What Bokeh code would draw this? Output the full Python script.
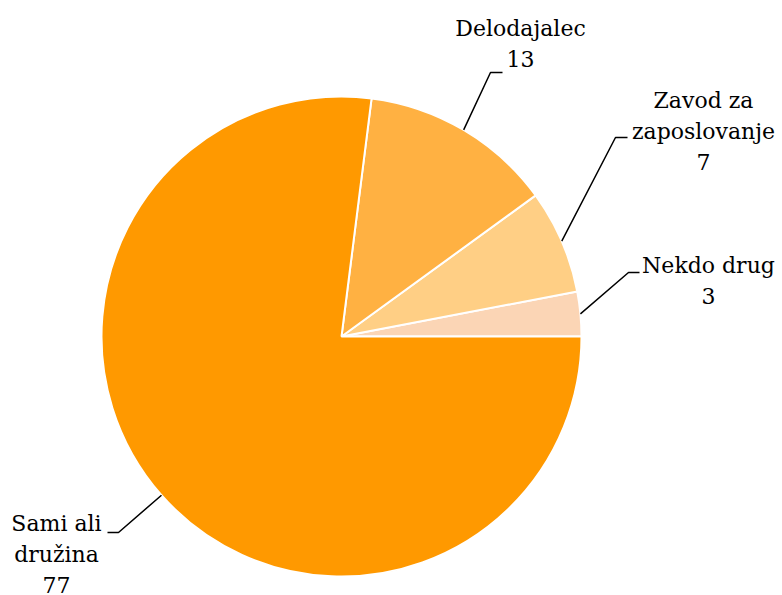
import math
from bokeh.plotting import figure
from bokeh.models import Range1d, ColumnDataSource
from bokeh.core.properties import value
from bokeh.embed import file_html
from bokeh.resources import INLINE

# ---- data (counter-clockwise from 3 o'clock) ----
categories = ["Nekdo drug", "Zavod za zaposlovanje", "Delodajalec", "Sami ali družina"]
label_lines = [["Nekdo drug"], ["Zavod za", "zaposlovanje"], ["Delodajalec"], ["Sami ali", "družina"]]
values = [3, 7, 13, 77]
colors = ["#FBD5B5", "#FFCF85", "#FFB142", "#FF9900"]

# ---- layout (screen pixels of the page) ----
W, H = 782, 595
CX, CY, R = 341, 336, 240
# leader elbow / end and label first-line centre anchor, screen px
elbow = [(628, 272), (615, 137), (490, 72), (118, 532)]
elbow_end = [(639, 272), (627, 137), (502, 72), (107, 532)]
label_anchor = [(708, 265), (703, 100), (520, 28), (56, 523)]
LINE_SP = 30.5
FONT = "DejaVu Serif"
FSIZE = "22px"


def dx(x):
    return x


def dy(y):
    return H - y


p = figure(width=W, height=H, output_backend="svg", toolbar_location=None,
           x_range=Range1d(0, W), y_range=Range1d(0, H), min_border=0)
p.axis.visible = False
p.grid.visible = False
p.outline_line_color = None
p.background_fill_color = "white"
p.border_fill_color = "white"

total = sum(values)
starts, ends = [], []
acc = 0.0
for v in values:
    starts.append(2 * math.pi * acc / total)
    acc += v
    ends.append(2 * math.pi * acc / total)

src = ColumnDataSource(dict(start=starts, end=ends, color=colors, cat=categories, val=values))
p.wedge(x=dx(CX), y=dy(CY), radius=R, start_angle="start", end_angle="end",
        fill_color="color", line_color="white", line_width=2, source=src)

# leader lines
for i in range(len(values)):
    mid = (starts[i] + ends[i]) / 2
    x0 = dx(CX) + R * math.cos(mid)
    y0 = dy(CY) + R * math.sin(mid)
    xs = [x0, dx(elbow[i][0]), dx(elbow_end[i][0])]
    ys = [y0, dy(elbow[i][1]), dy(elbow_end[i][1])]
    p.line(xs, ys, line_color="black", line_width=1.5)

# labels
tx, ty, tt = [], [], []
for i in range(len(values)):
    lines = label_lines[i] + [str(values[i])]
    ax, ay = label_anchor[i]
    for j, t in enumerate(lines):
        tx.append(dx(ax))
        ty.append(dy(ay + j * LINE_SP))
        tt.append(t)
p.text(x=tx, y=ty, text=tt, text_align="center", text_baseline="middle",
       text_font=value(FONT), text_font_size=FSIZE, text_color="black")

open("out.html", "w").write(file_html(p, INLINE))
